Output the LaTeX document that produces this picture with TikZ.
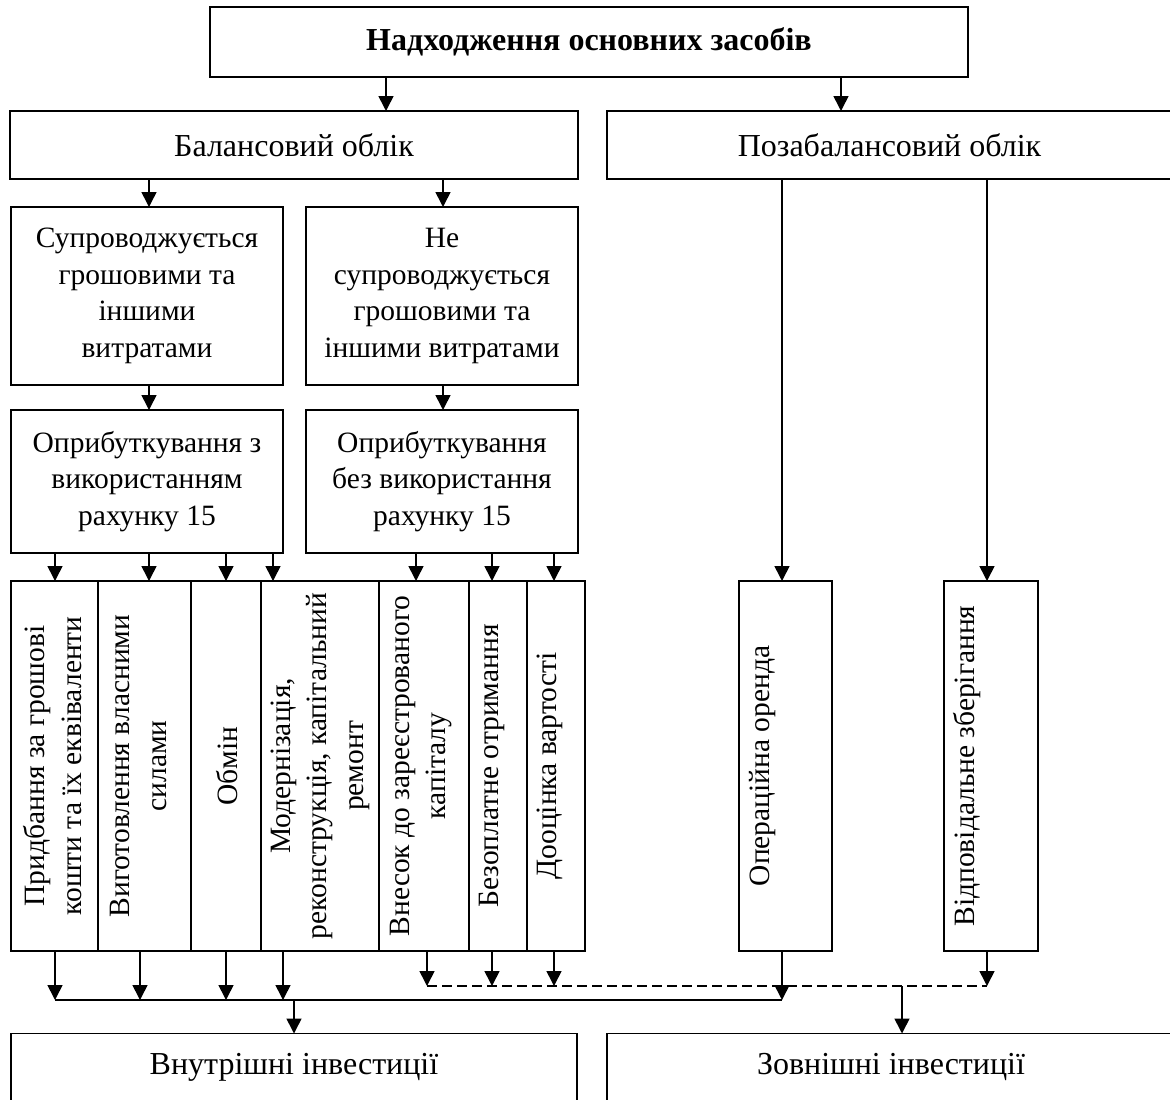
\documentclass[tikz,border=0pt]{standalone}
\usepackage{fontspec}
\setmainfont{Liberation Serif}
\usetikzlibrary{arrows.meta}
\newcommand{\diafont}{\fontsize{29.5}{36.5}\selectfont}
\newcommand{\headfont}{\fontsize{32}{38}\selectfont}
\begin{document}
\begin{tikzpicture}[x=1pt,y=-1pt,
  box/.style={draw,line width=1.6pt,rectangle,inner sep=0pt,outer sep=0pt,align=center,font=\diafont},
  headbox/.style={box,font=\headfont},
  vbox/.style={box,minimum height=370pt},
  vtext/.style={rotate=90,align=center,inner sep=0pt,font=\diafont},
  arr/.style={line width=1.6pt,-{Triangle[length=15pt,width=15pt]}},
  bus/.style={line width=1.6pt},
  dbus/.style={line width=1.6pt,dash pattern=on 10pt off 5pt},
]
\useasboundingbox (0,0) rectangle (1170,1100);
\clip (0,0) rectangle (1170,1100);

% columns of the connectors
\coordinate (cA) at (386,0);
\coordinate (cB) at (841,0);
\coordinate (cC) at (149,0);
\coordinate (cD) at (443,0);
\coordinate (cE) at (55,0);
\coordinate (cF) at (226,0);
\coordinate (cG) at (273,0);
\coordinate (cH) at (416,0);
\coordinate (cI) at (492,0);
\coordinate (cJ) at (554,0);
\coordinate (cK) at (782,0);
\coordinate (cL) at (987,0);
\coordinate (cM) at (140,0);
\coordinate (cN) at (283,0);
\coordinate (cO) at (427,0);
\coordinate (cQ) at (902,0);

% header and accounting boxes
\node[headbox,minimum width=758pt,minimum height=70pt,font=\headfont\bfseries] (top) at (589,42) {Надходження основних засобів};
\node[headbox,minimum width=568pt,minimum height=68pt] (bal) at (294,145) {Балансовий облік};
\node[headbox,minimum width=565pt,minimum height=68pt] (off) at (889.5,145) {Позабалансовий облік};

\node[box,minimum width=272pt,minimum height=178pt] (r2l) at (147,296) {Супроводжується\\грошовими та\\іншими\\витратами};
\node[box,minimum width=272pt,minimum height=178pt] (r2r) at (442,296) {Не\\супроводжується\\грошовими та\\іншими витратами};
\node[box,minimum width=272pt,minimum height=143pt] (r3l) at (147,481.5) {Оприбуткування з\\використанням\\рахунку 15};
\node[box,minimum width=272pt,minimum height=143pt] (r3r) at (442,481.5) {Оприбуткування\\без використання\\рахунку 15};

% vertical boxes
\node[vbox,minimum width=87pt] (v1) at (54.5,766) {};
\node[vbox,minimum width=93pt] (v2) at (144.5,766) {};
\node[vbox,minimum width=70pt] (v3) at (226,766) {};
\node[vbox,minimum width=118pt] (v4) at (320,766) {};
\node[vbox,minimum width=90pt] (v5) at (424,766) {};
\node[vbox,minimum width=58pt] (v6) at (498,766) {};
\node[vbox,minimum width=58pt] (v7) at (556,766) {};
\node[vbox,minimum width=93pt] (vop) at (785.5,766) {};
\node[vbox,minimum width=94pt] (vvid) at (991,766) {};

\node[vtext] (v1t) at (52.5,766) {Придбання за грошові\\кошти та їх еквіваленти};
\node[vtext] (v2t) at (138.5,766) {Виготовлення власними\\силами};
\node[vtext] (v3t) at (227,766) {Обмін};
\node[vtext] (v4t) at (320,766) {Модернізація,\\реконструкція, капітальний\\ремонт};
\node[vtext] (v5t) at (421,766) {Внесок до зареєстрованого\\капіталу};
\node[vtext] (v6t) at (492,766) {Безоплатне отримання};
\node[vtext] (v7t) at (550,766) {Дооцінка вартості};
\node[vtext] (vopt) at (763,766) {Операційна оренда};
\node[vtext] (vvidt) at (967,766) {Відповідальне зберігання};

% investment boxes
\node[headbox,minimum width=566pt,minimum height=67pt] (inner) at (294,1067) {Внутрішні інвестиції};
\node[headbox,minimum width=568pt,minimum height=67pt] (outer) at (891,1067) {Зовнішні інвестиції};

% top connectors
\draw[arr] (top.south -| cA) -- (bal.north -| cA);
\draw[arr] (top.south -| cB) -- (off.north -| cB);
\draw[arr] (bal.south -| cC) -- (r2l.north -| cC);
\draw[arr] (bal.south -| cD) -- (r2r.north -| cD);
\draw[arr] (r2l.south -| cC) -- (r3l.north -| cC);
\draw[arr] (r2r.south -| cD) -- (r3r.north -| cD);

\draw[arr] (r3l.south -| cE) -- (v1.north -| cE);
\draw[arr] (r3l.south -| cC) -- (v2.north -| cC);
\draw[arr] (r3l.south -| cF) -- (v3.north -| cF);
\draw[arr] (r3l.south -| cG) -- (v4.north -| cG);
\draw[arr] (r3r.south -| cH) -- (v5.north -| cH);
\draw[arr] (r3r.south -| cI) -- (v6.north -| cI);
\draw[arr] (r3r.south -| cJ) -- (v7.north -| cJ);
\draw[arr] (off.south -| cK) -- (vop.north -| cK);
\draw[arr] (off.south -| cL) -- (vvid.north -| cL);

% solid collecting line to internal investments
\coordinate (busL) at (55,1000);
\coordinate (busR) at (782,1000);
\draw[bus] (busL) -- (busR);
\draw[arr] (v1.south -| cE) -- (busL -| cE);
\draw[arr] (v2.south -| cM) -- (busL -| cM);
\draw[arr] (v3.south -| cF) -- (busL -| cF);
\draw[arr] (v4.south -| cN) -- (busL -| cN);
\draw[arr] (vop.south -| cK) -- (busR);
\draw[arr] (busL -| inner.north) -- (inner.north);

% dashed collecting line to external investments
\coordinate (dbL) at (427,986);
\coordinate (dbR) at (987,986);
\draw[dbus] (dbL) -- (dbR);
\draw[arr] (v5.south -| cO) -- (dbL);
\draw[arr] (v6.south -| cI) -- (dbL -| cI);
\draw[arr] (v7.south -| cJ) -- (dbL -| cJ);
\draw[arr] (vvid.south -| cL) -- (dbR);
\draw[arr] (dbL -| cQ) -- (outer.north -| cQ);
\end{tikzpicture}
\end{document}
